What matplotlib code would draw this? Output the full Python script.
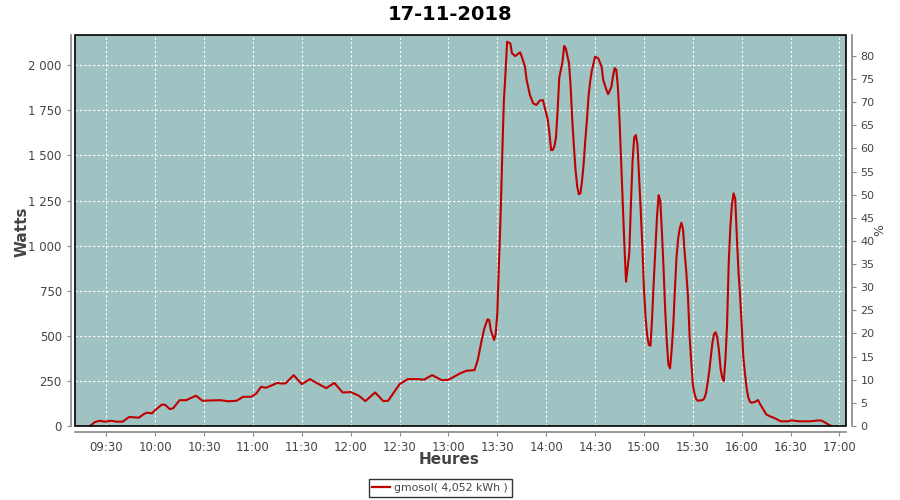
import matplotlib as mpl
mpl.use('Agg')
import matplotlib.pyplot as plt
import matplotlib.ticker as ticker
from matplotlib.patches import Rectangle
from matplotlib.lines import Line2D

# --- data ---
times = ['09:20', '09:23', '09:26', '09:29', '09:33', '09:36', '09:40', '09:44', '09:50', '09:53',
         '09:55', '09:58', '10:00', '10:04', '10:06', '10:09', '10:11', '10:15', '10:19', '10:25',
         '10:29', '10:35', '10:40', '10:45', '10:50', '10:54', '10:59', '11:02', '11:05', '11:08',
         '11:11', '11:15', '11:17', '11:20', '11:25', '11:30', '11:35', '11:39', '11:45', '11:50',
         '11:55', '12:00', '12:05', '12:09', '12:15', '12:20', '12:23', '12:30', '12:35', '12:41',
         '12:45', '12:50', '12:56', '13:00', '13:07', '13:11', '13:16', '13:18', '13:20', '13:22',
         '13:24', '13:25', '13:26', '13:28', '13:29', '13:30', '13:31', '13:32', '13:33', '13:34',
         '13:35', '13:36', '13:38', '13:39', '13:41', '13:44', '13:45', '13:47', '13:48', '13:50',
         '13:52', '13:54', '13:56', '13:58', '13:59', '14:01', '14:02', '14:03', '14:04', '14:05',
         '14:06', '14:07', '14:08', '14:10', '14:11', '14:12', '14:14', '14:15', '14:16', '14:17',
         '14:18', '14:19', '14:20', '14:21', '14:22', '14:23', '14:24', '14:25', '14:26', '14:27',
         '14:28', '14:30', '14:32', '14:34', '14:35', '14:37', '14:38', '14:40', '14:41', '14:42',
         '14:43', '14:44', '14:45', '14:46', '14:47', '14:48', '14:49', '14:50', '14:51', '14:52',
         '14:53', '14:54', '14:55', '14:56', '14:57', '14:58', '14:59', '15:00', '15:01', '15:02',
         '15:03', '15:04', '15:05', '15:06', '15:07', '15:08', '15:09', '15:10', '15:11', '15:12',
         '15:13', '15:14', '15:15', '15:16', '15:17', '15:18', '15:19', '15:20', '15:21', '15:22',
         '15:23', '15:24', '15:25', '15:26', '15:27', '15:28', '15:29', '15:30', '15:31', '15:32',
         '15:33', '15:36', '15:37', '15:38', '15:39', '15:40', '15:41', '15:42', '15:43', '15:44',
         '15:45', '15:46', '15:47', '15:48', '15:49', '15:50', '15:51', '15:52', '15:53', '15:54',
         '15:55', '15:56', '15:57', '15:58', '15:59', '16:00', '16:01', '16:02', '16:03', '16:04',
         '16:05', '16:06', '16:08', '16:10', '16:11', '16:13', '16:15', '16:17', '16:19', '16:21',
         '16:24', '16:28', '16:31', '16:35', '16:42', '16:47', '16:49', '16:51', '16:53', '16:55']
watts = [0, 22, 29, 24, 29, 24, 24, 50, 46, 66,
         74, 70, 88, 118, 118, 94, 98, 143, 143, 168,
         140, 142, 143, 137, 140, 162, 162, 180, 217, 212,
         223, 239, 236, 236, 282, 232, 260, 239, 210, 239,
         186, 188, 168, 138, 186, 138, 140, 232, 260, 260,
         257, 282, 254, 256, 291, 306, 310, 366, 458, 541,
         591, 588, 532, 477, 510, 625, 902, 1160, 1493, 1800,
         1955, 2131, 2121, 2066, 2051, 2072, 2048, 1992, 1918, 1835,
         1789, 1780, 1804, 1807, 1770, 1697, 1623, 1530, 1530, 1550,
         1600, 1750, 1930, 2020, 2107, 2094, 2011, 1881, 1697, 1550,
         1420, 1330, 1285, 1290, 1360, 1456, 1586, 1700, 1830, 1910,
         1970, 2048, 2038, 1992, 1918, 1863, 1840, 1880, 1940, 1985,
         1975, 1880, 1700, 1470, 1250, 1000, 800, 880, 960, 1230,
         1470, 1600, 1613, 1560, 1380, 1200, 1000, 760, 600, 500,
         450, 445, 600, 800, 980, 1160, 1280, 1250, 1080, 880,
         650, 470, 340, 320, 420, 560, 760, 940, 1040, 1096,
         1127, 1090, 960, 850, 720, 500, 360, 230, 180, 150,
         140, 144, 153, 180, 235, 300, 380, 460, 510, 520,
         490, 420, 320, 270, 250, 370, 560, 900, 1100, 1230,
         1290, 1260, 1050, 860, 720, 560, 380, 290, 210, 160,
         135, 129, 133, 144, 126, 95, 65, 55, 48, 40,
         26, 26, 31, 26, 26, 31, 30, 20, 9, 0]

x_ticks = ['09:30', '10:00', '10:30', '11:00', '11:30', '12:00', '12:30', '13:00',
           '13:30', '14:00', '14:30', '15:00', '15:30', '16:00', '16:30', '17:00']
legend_label = 'gmosol( 4,052 kWh )'
title = '17-11-2018'


def to_min(s):
    h, m = s.split(':')
    return int(h) * 60 + int(m)


xs = [to_min(t) for t in times]
tick_pos = [to_min(t) for t in x_ticks]

bg = '#9ec3c2'
red = '#c00000'
txt = '#444444'
axcol = '#888888'

fig = plt.figure(figsize=(9, 5), dpi=100)
ax = fig.add_axes([75 / 900, 74 / 500, 771 / 900, 391 / 500])
ax.set_facecolor(bg)
ax.plot(xs, watts, color=red, lw=1.5, zorder=3)

ax.set_xlim(9 * 60 + 10.8, 17 * 60 + 4)
ax.set_ylim(0, 2168)
ax.set_xticks(tick_pos)
ax.set_xticklabels(x_ticks)
ax.set_yticks(range(0, 2001, 250))
ax.yaxis.set_major_formatter(ticker.FuncFormatter(lambda v, p: f'{int(v):,}'.replace(',', ' ')))
ax.grid(color='white', linestyle=(0, (2, 2)), linewidth=0.8)

for side in ['top', 'right']:
    ax.spines[side].set_visible(False)
ax.spines['left'].set_position(('outward', 3))
ax.spines['bottom'].set_position(('outward', 4))
for side in ['left', 'bottom']:
    ax.spines[side].set_color(axcol)
    ax.spines[side].set_linewidth(1.2)
ax.tick_params(colors=axcol, labelcolor=txt, labelsize=8.5, length=3, width=0.8)
ax.add_patch(Rectangle((0, 0), 1, 1, transform=ax.transAxes, fill=False,
                       ec='black', lw=1.2, clip_on=False, zorder=5))

ax2 = ax.twinx()
ax2.set_ylim(0, 84.5)
ax2.set_yticks(range(0, 81, 5))
for side in ['top', 'left', 'bottom']:
    ax2.spines[side].set_visible(False)
ax2.spines['right'].set_position(('outward', 4))
ax2.spines['right'].set_color(axcol)
ax2.spines['right'].set_linewidth(1.2)
ax2.tick_params(colors=axcol, labelcolor=txt, labelsize=8, length=3, width=0.8)

fig.text(0.5, 0.972, title, ha='center', va='center', fontsize=14, fontweight='bold', color='black')
fig.text(22 / 900, 1 - 232 / 500, 'Watts', rotation=90, ha='center', va='center',
         fontsize=11, fontweight='bold', color=txt)
fig.text(880 / 900, 1 - 230 / 500, '%', rotation=90, ha='center', va='center',
         fontsize=9, color=txt)
fig.text(449 / 900, 1 - 460 / 500, 'Heures', ha='center', va='center',
         fontsize=11, fontweight='bold', color=txt)

handle = Line2D([], [], color=red, lw=1.6)
leg = fig.legend([handle], [legend_label], loc='center', bbox_to_anchor=(440 / 900, 1 - 488 / 500),
                 frameon=True, fancybox=False, fontsize=7.8, handlelength=1.6,
                 handletextpad=0.4, borderpad=0.35, borderaxespad=0)
leg.get_frame().set_edgecolor('black')
leg.get_frame().set_linewidth(1)
for t in leg.get_texts():
    t.set_color(txt)

fig.savefig('out.png', dpi=100)
